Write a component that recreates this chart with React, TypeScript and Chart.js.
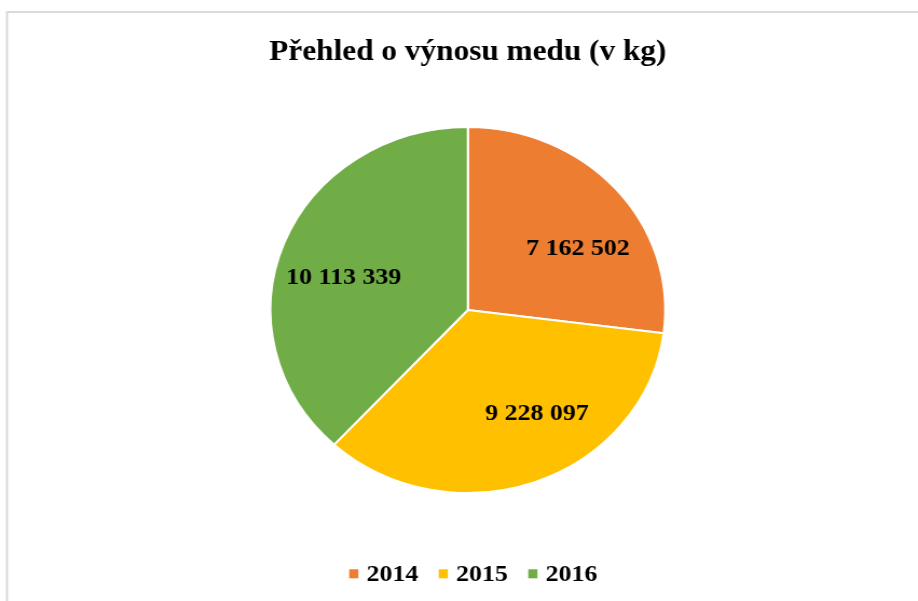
import React, { useEffect, useRef } from "react";
import { Chart, registerables } from "chart.js";

Chart.register(...registerables);

// ---- data ----
const chartTitle = "Přehled o výnosu medu (v kg)";
const categories = ["2014", "2015", "2016"];
const honeyKg = [7162502, 9228097, 10113339];
const sliceColors = ["#ED7D31", "#FFC000", "#70AD47"];

// ---- layout / style (not data) ----
const STRETCH = 1.079; // reference is drawn horizontally stretched
const VIEW_W = 918;
const VIEW_H = 601;
const CANVAS_W = Math.round(VIEW_W / STRETCH);
const PIE_CX = 433.7;
const PIE_CY = 310;
const PIE_R = 184;
const labelAngleNudgeDeg = [9.6, -12.2, -4.8];
const labelRadiusFactor = 0.656;
const SERIF = '"Liberation Serif", "Times New Roman", serif';

const fmt = (v: number) => String(v).replace(/\B(?=(\d{3})+(?!\d))/g, " ");

const decorPlugin = {
  id: "decor",
  beforeDraw(chart: any) {
    const ctx = chart.ctx as CanvasRenderingContext2D;
    ctx.save();
    ctx.fillStyle = "#ffffff";
    ctx.fillRect(0, 0, chart.width, chart.height);
    ctx.strokeStyle = "#d9d9d9";
    ctx.lineWidth = 2;
    ctx.strokeRect(6.5, 12, chart.width + 100, chart.height + 100);
    ctx.restore();
  },
  afterDraw(chart: any) {
    const ctx = chart.ctx as CanvasRenderingContext2D;
    const meta = chart.getDatasetMeta(0);
    const cx = PIE_CX;
    ctx.save();
    // title
    ctx.fillStyle = "#000000";
    ctx.font = `bold 29px ${SERIF}`;
    ctx.textAlign = "center";
    ctx.textBaseline = "alphabetic";
    ctx.fillText(chartTitle, cx, 60);

    // data labels
    ctx.font = `bold 24px ${SERIF}`;
    meta.data.forEach((arc: any, i: number) => {
      const p = arc.getProps(["x", "y", "startAngle", "endAngle", "outerRadius"], true);
      const mid = (p.startAngle + p.endAngle) / 2 + (labelAngleNudgeDeg[i] * Math.PI) / 180;
      const r = p.outerRadius * labelRadiusFactor;
      const lx = p.x + Math.cos(mid) * r;
      const ly = p.y + Math.sin(mid) * r;
      ctx.fillText(fmt(chart.data.datasets[0].data[i]), lx, ly + 24 * 0.338);
    });

    // legend
    ctx.font = `bold 24px ${SERIF}`;
    ctx.textAlign = "left";
    const box = 8.5;
    const gapBoxText = 7.5;
    const gapItems = 19;
    const widths = categories.map((c) => ctx.measureText(c).width);
    const total =
      widths.reduce((a, w) => a + box + gapBoxText + w, 0) + gapItems * (categories.length - 1);
    let x = cx + 5 - total / 2;
    const baseY = 581;
    categories.forEach((c, i) => {
      ctx.fillStyle = sliceColors[i];
      ctx.fillRect(x, 569.3, box, 9);
      x += box + gapBoxText;
      ctx.fillStyle = "#000000";
      ctx.fillText(c, x, baseY);
      x += widths[i] + gapItems;
    });
    ctx.restore();
  },
};

export default function App() {
  const ref = useRef<HTMLCanvasElement | null>(null);
  useEffect(() => {
    if (!ref.current) return;
    const chart = new Chart(ref.current, {
      type: "pie",
      data: {
        labels: categories,
        datasets: [
          {
            data: honeyKg,
            backgroundColor: sliceColors,
            borderColor: "#ffffff",
            borderWidth: 2,
          },
        ],
      },
      options: {
        responsive: false,
        animation: false,
        devicePixelRatio: 1,
        layout: {
          padding: {
            left: PIE_CX - PIE_R,
            right: CANVAS_W - (PIE_CX + PIE_R),
            top: PIE_CY - PIE_R,
            bottom: VIEW_H - (PIE_CY + PIE_R),
          },
        },
        plugins: {
          legend: { display: false },
          title: { display: false },
          tooltip: { enabled: false },
        },
      },
      plugins: [decorPlugin],
    });
    return () => chart.destroy();
  }, []);
  return (
    <div style={{ position: "fixed", left: 0, top: 0, width: VIEW_W, height: VIEW_H, background: "#fff" }}>
      <canvas
        ref={ref}
        width={CANVAS_W}
        height={VIEW_H}
        style={{ display: "block", width: VIEW_W + "px", height: VIEW_H + "px" }}
      />
    </div>
  );
}
